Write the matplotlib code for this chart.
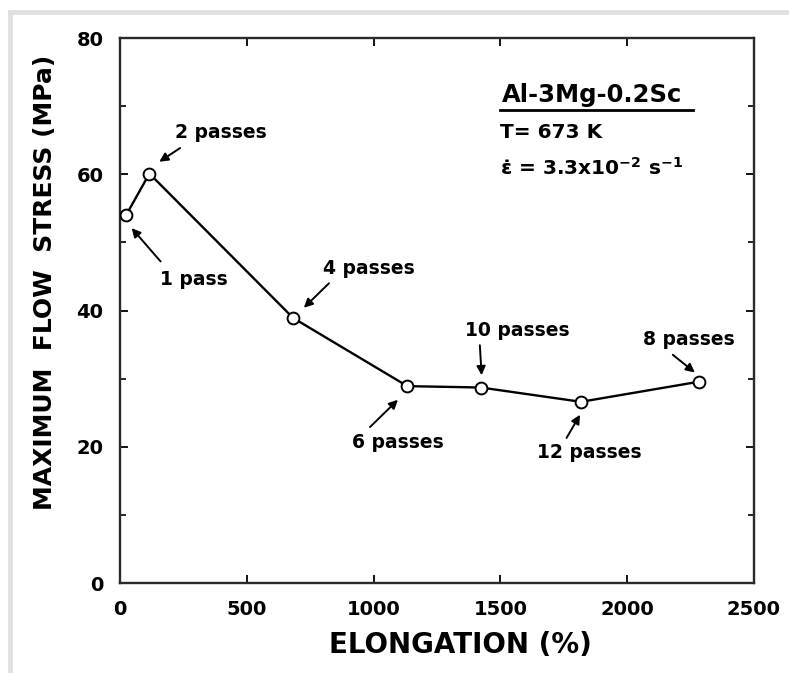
import matplotlib
matplotlib.use("Agg")
import matplotlib.pyplot as plt
from matplotlib.lines import Line2D
from matplotlib.ticker import MultipleLocator

plt.rcParams['font.family'] = ['DejaVu Sans']
plt.rcParams['font.weight'] = 'bold'
plt.rcParams['mathtext.fontset'] = 'dejavusans'
plt.rcParams['mathtext.default'] = 'bf'

# ---- data ----
elongation = [24, 116, 683, 1133, 1423, 1818, 2283]
flow_stress = [54.0, 60.1, 38.9, 28.9, 28.7, 26.6, 29.55]
pass_labels = ["1 pass", "2 passes", "4 passes", "6 passes",
               "10 passes", "12 passes", "8 passes"]
x_ticks = [0, 500, 1000, 1500, 2000, 2500]
y_ticks = [0, 20, 40, 60, 80]

# label layout: (text x, text y, arrow tail, arrow head) in data coords
label_layout = {
    "1 pass":    ((158, 44.5), (160, 47.2), (46, 52.1)),
    "2 passes":  ((217, 66.2), (237, 63.85), (155, 61.84)),
    "4 passes":  ((800, 46.2), (824, 44.0), (725, 40.4)),
    "6 passes":  ((915, 20.6), (986, 22.9), (1096, 26.9)),
    "10 passes": ((1360, 37.0), (1419, 34.9), (1426, 30.5)),
    "12 passes": ((1644, 19.1), (1761, 21.3), (1814, 24.7)),
    "8 passes":  ((2062, 35.8), (2180, 33.5), (2267, 30.9)),
}

fig = plt.figure(figsize=(7.89, 6.73), dpi=100)
ax = fig.add_axes([0.1521, 0.1337, 0.8035, 0.8098])

ax.plot(elongation, flow_stress, color='black', lw=1.7, marker='o',
        ms=8.5, mfc='white', mec='black', mew=1.4, zorder=3)

for lab in pass_labels:
    (tx, ty), tail, head = label_layout[lab]
    ax.text(tx, ty, lab, fontsize=13.5, fontweight='bold', ha='left', va='center')
    ax.annotate('', xy=head, xytext=tail,
                arrowprops=dict(arrowstyle='-|>', color='black', lw=1.4,
                                mutation_scale=13, shrinkA=0, shrinkB=0))

ax.set_xlim(0, 2500)
ax.set_ylim(0, 80)
ax.set_xticks(x_ticks)
ax.set_yticks(y_ticks)
ax.yaxis.set_minor_locator(MultipleLocator(10))
ax.tick_params(axis='both', which='major', direction='in', length=6, width=1.3,
               top=True, right=True, labelsize=14, pad=12)
ax.tick_params(axis='y', which='minor', direction='in', length=4, width=1.2,
               right=True, left=True)
for lbl in ax.get_xticklabels() + ax.get_yticklabels():
    lbl.set_fontweight('bold')
for sp in ax.spines.values():
    sp.set_linewidth(1.7)
    sp.set_color('#2a2a2a')

ax.set_xlabel('ELONGATION (%)', fontsize=20, fontweight='bold')
ax.xaxis.set_label_coords(0.5 + 23 / 634, -0.088)
ax.set_ylabel('MAXIMUM  FLOW  STRESS (MPa)', fontsize=18, fontweight='bold')
ax.yaxis.set_label_coords(-0.1, 0.5 + 28 / 545)

# material / condition block
ax.text(1506, 71.6, 'Al-3Mg-0.2Sc', fontsize=17.5, fontweight='bold',
        ha='left', va='center')
ax.plot([1498, 2259], [69.4, 69.4], color='black', lw=2)
ax.text(1500, 66.1, 'T= 673 K', fontsize=14.5, fontweight='bold',
        ha='left', va='center')
ax.text(1500, 60.9, '\u03b5\u0307 = 3.3x10$^{-2}$ s$^{-1}$', fontsize=14.5,
        fontweight='bold', ha='left', va='center')

# light grey frame around the figure (top and left edges visible)
W, H = 789, 673
fig.add_artist(Line2D([10 / W, 1.0], [1 - 12 / H, 1 - 12 / H],
                      transform=fig.transFigure, color='#e0e0e0', lw=3.5))
fig.add_artist(Line2D([10 / W, 10 / W], [0.0, 1 - 12 / H],
                      transform=fig.transFigure, color='#e0e0e0', lw=3.5))

fig.savefig('out.png', dpi=100)
